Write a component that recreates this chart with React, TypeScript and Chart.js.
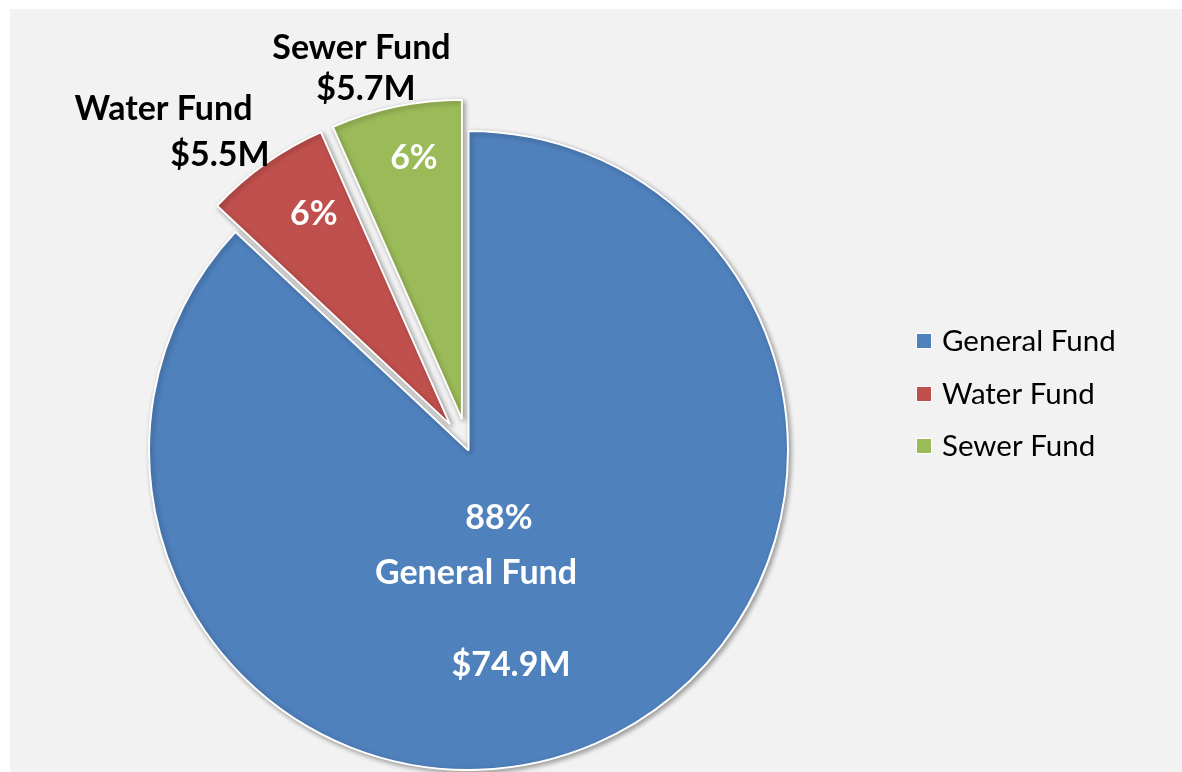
import React, { useEffect, useRef } from "react";
import { Chart, registerables } from "chart.js";

Chart.register(...registerables);

const categories = ["General Fund", "Water Fund", "Sewer Fund"];
const values = [74.9, 5.5, 5.7];
const amountLabels = ["$74.9M", "$5.5M", "$5.7M"];
const percentLabels = ["88%", "6%", "6%"];
const colors = ["#4F81BD", "#C0504D", "#9BBB59"];

const FONT = "Lato, 'Open Sans', sans-serif";
const EXPLODE = [0, 32, 32];
const LABEL_ANGLE_FRAC = [0, 0.61, 0.565];
const LABEL_RADIUS_FRAC = [0, 0.787, 0.834];

const explodePlugin = {
  id: "explode",
  afterDatasetUpdate(chart: any, args: any) {
    const meta = args.meta;
    meta.data.forEach((arc: any, i: number) => {
      const d = EXPLODE[i] || 0;
      if (!d) return;
      const mid = (arc.startAngle + arc.endAngle) / 2;
      arc.x += Math.cos(mid) * d;
      arc.y += Math.sin(mid) * d;
    });
  },
};

const bgPlugin = {
  id: "bg",
  beforeDraw(chart: any) {
    const ctx = chart.ctx;
    ctx.save();
    ctx.fillStyle = "#ffffff";
    ctx.fillRect(0, 0, chart.width, chart.height);
    ctx.fillStyle = "#F2F2F2";
    ctx.fillRect(10, 9, chart.width - 10, chart.height - 9);
    ctx.restore();
  },
};

const shadowPlugin = {
  id: "shadow",
  beforeDatasetsDraw(chart: any) {
    const ctx = chart.ctx;
    ctx.save();
    ctx.shadowColor = "rgba(0,0,0,0.35)";
    ctx.shadowBlur = 5;
    ctx.shadowOffsetX = 2;
    ctx.shadowOffsetY = 2;
  },
  afterDatasetsDraw(chart: any) {
    chart.ctx.restore();
  },
};

const labelsPlugin = {
  id: "labels",
  afterDraw(chart: any) {
    const ctx = chart.ctx;
    const meta = chart.getDatasetMeta(0);
    const main = meta.data[0];
    const cx = main.x;
    const cy = main.y;
    ctx.save();
    ctx.textAlign = "center";
    ctx.textBaseline = "alphabetic";
    ctx.font = `bold 34px ${FONT}`;

    // General Fund labels (inside)
    ctx.fillStyle = "#ffffff";
    ctx.fillText(percentLabels[0], cx + 30.5, cy + 78.5);
    ctx.fillText(categories[0], cx + 7.5, cy + 133.5);
    ctx.fillText(amountLabels[0], cx + 42.5, cy + 225.5);

    // small slices percent labels
    [1, 2].forEach((i) => {
      const arc = meta.data[i];
      const a = arc.startAngle + (arc.endAngle - arc.startAngle) * LABEL_ANGLE_FRAC[i];
      const r = arc.outerRadius * LABEL_RADIUS_FRAC[i];
      const x = arc.x + Math.cos(a) * r;
      const y = arc.y + Math.sin(a) * r;
      ctx.fillStyle = "#ffffff";
      ctx.fillText(percentLabels[i], x, y + 12);
    });

    // outside labels
    ctx.fillStyle = "#000000";
    ctx.fillText(categories[1], cx - 305, cy - 330.5);
    ctx.fillText(amountLabels[1], cx - 248.5, cy - 284.5);
    ctx.fillText(categories[2], cx - 107, cy - 391.5);
    ctx.fillText(amountLabels[2], cx - 102.5, cy - 350.5);

    // legend
    ctx.textAlign = "left";
    ctx.font = `29.5px ${FONT}`;
    const rows = [341, 394, 446];
    categories.forEach((c, i) => {
      const y = rows[i];
      ctx.fillStyle = "#ffffff";
      ctx.fillRect(916, y - 8, 16, 16);
      ctx.fillStyle = colors[i];
      ctx.fillRect(917, y - 7, 14, 14);
      ctx.fillStyle = "#000000";
      ctx.fillText(c, 942, y + 10);
    });
    ctx.restore();
  },
};

export default function App() {
  const ref = useRef<HTMLCanvasElement | null>(null);
  useEffect(() => {
    if (!ref.current) return;
    const chart = new Chart(ref.current, {
      type: "pie",
      data: {
        labels: categories,
        datasets: [
          {
            data: values,
            backgroundColor: colors,
            borderColor: "#ffffff",
            borderWidth: 2,
            radius: 319.5,
            clip: false as any,
          } as any,
        ],
      },
      options: {
        animation: false,
        responsive: false,
        events: [],
        layout: { padding: { top: 131, bottom: 2, left: 149, right: 394 } },
        plugins: {
          legend: { display: false },
          tooltip: { enabled: false },
        },
      },
      plugins: [bgPlugin, explodePlugin, shadowPlugin, labelsPlugin],
    });
    return () => chart.destroy();
  }, []);
  return (
    <div style={{ position: "fixed", left: 0, top: 0, width: 1182, height: 772 }}>
      <canvas ref={ref} width={1182} height={772} style={{ width: 1182, height: 772, display: "block" }} />
    </div>
  );
}
